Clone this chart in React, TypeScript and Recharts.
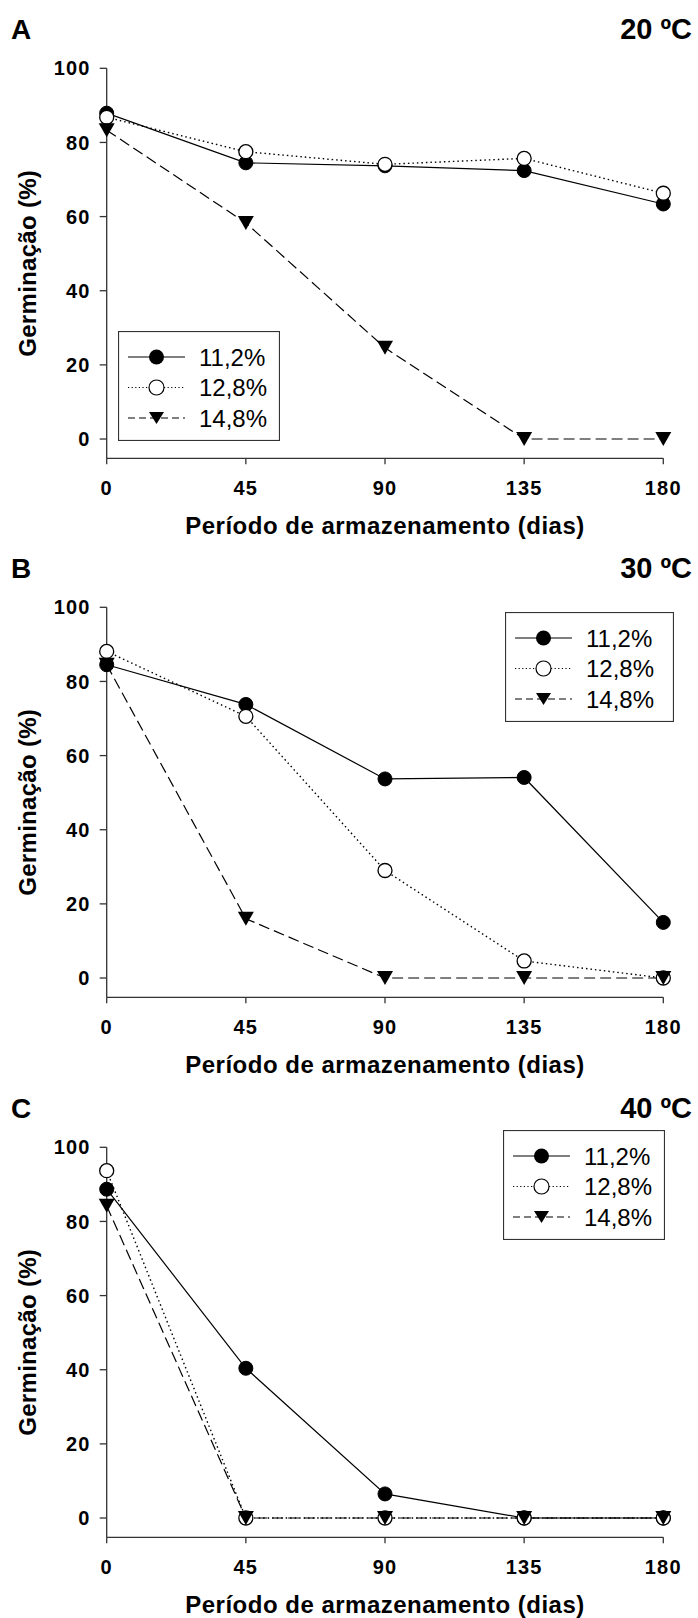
import React from 'react';
import { LineChart, Line, XAxis, YAxis, Legend } from 'recharts';

// dias de armazenamento
const dias = [0, 45, 90, 135, 180];
const umidades = ['11,2%', '12,8%', '14,8%'];
const yTicks = [0, 20, 40, 60, 80, 100];

// 20 ºC
const g20_112 = [87.9, 74.5, 73.7, 72.4, 63.4];
const g20_128 = [86.8, 77.5, 74.1, 75.7, 66.3];
const g20_148 = [83.3, 58.3, 24.6, 0, 0];

// 30 ºC
const g30_112 = [84.5, 73.8, 53.7, 54.1, 15];
const g30_128 = [88.1, 70.6, 29, 4.6, 0];
const g30_148 = [84.5, 16, 0, 0, 0];

// 40 ºC
const g40_112 = [88.7, 40.4, 6.5, 0, 0];
const g40_128 = [93.7, 0, 0, 0, 0];
const g40_148 = [84.2, 0, 0, 0, 0];

const FONT = '"Liberation Sans", Arial, sans-serif';
const AXIS = '#333';

const buildData = (a: number[], b: number[], c: number[]) =>
  dias.map((d, i) => ({ dia: d, s112: a[i], s128: b[i], s148: c[i] }));

const FilledDot = (p: any) => (
  <circle key={`f-${p.index}`} cx={p.cx} cy={p.cy} r={7} fill="#000" stroke="#000" strokeWidth={1} />
);
const OpenDot = (p: any) => (
  <circle key={`o-${p.index}`} cx={p.cx} cy={p.cy} r={7} fill="#fff" stroke="#000" strokeWidth={1.3} />
);
const TriDot = (p: any) => (
  <path
    key={`t-${p.index}`}
    d={`M${p.cx - 8},${p.cy - 7} L${p.cx + 8},${p.cy - 7} L${p.cx},${p.cy + 7} Z`}
    fill="#000"
  />
);

const lineStyles = [
  { dash: undefined, legendDash: undefined, width: 1.2 },
  { dash: '1.5 3', legendDash: '1.2 2.4', width: 1.4 },
  { dash: '11 5', legendDash: '7 4', width: 1.2 },
];

const XTick = (p: any) => (
  <text
    x={p.x}
    y={p.y + 14}
    textAnchor="middle"
    fontSize={20}
    fontWeight="bold"
    fontFamily={FONT}
    letterSpacing={1.2}
    fill="#000"
  >
    {p.payload.value}
  </text>
);

const YTick = (p: any) => (
  <text
    x={p.x}
    y={p.y + 7.1}
    textAnchor="end"
    fontSize={20}
    fontWeight="bold"
    fontFamily={FONT}
    letterSpacing={1.2}
    fill="#000"
  >
    {p.payload.value}
  </text>
);

const LegendBox = ({ width }: { width: number }) => {
  const rows = [26, 56.5, 87];
  return (
    <svg width={width} height={110} style={{ display: 'block' }}>
      <rect x={0.5} y={0.5} width={width - 1} height={109} fill="#fff" stroke={AXIS} strokeWidth={1.2} />
      {umidades.map((u, i) => {
        const y = rows[i];
        const st = lineStyles[i];
        return (
          <g key={u}>
            <line x1={10} x2={67} y1={y} y2={y} stroke="#000" strokeWidth={1.1} strokeDasharray={st.legendDash} />
            {i === 0 && <circle cx={38.5} cy={y} r={7.5} fill="#000" />}
            {i === 1 && <circle cx={38.5} cy={y} r={7.5} fill="#fff" stroke="#000" strokeWidth={1.2} />}
            {i === 2 && <path d={`M${31},${y - 6} L${46},${y - 6} L${38.5},${y + 6} Z`} fill="#000" />}
            <text x={81} y={y + 8.6} fontSize={24} fontFamily={FONT} fill="#000">
              {u}
            </text>
          </g>
        );
      })}
    </svg>
  );
};

interface PanelProps {
  letra: string;
  temp: string;
  top: number;
  s112: number[];
  s128: number[];
  s148: number[];
  legendLeft: number;
  legendTop: number;
  legendWidth: number;
}

const Panel = ({ letra, temp, top, s112, s128, s148, legendLeft, legendTop, legendWidth }: PanelProps) => {
  const data = buildData(s112, s128, s148);
  return (
    <div style={{ position: 'absolute', left: 0, top, width: 698, height: 539 }}>
      <LineChart width={698} height={539} data={data} margin={{ top: 68.3, right: 34.7, bottom: 0, left: 0 }}>
        <XAxis
          dataKey="dia"
          type="number"
          domain={[0, 180]}
          ticks={dias}
          height={80.7}
          stroke={AXIS}
          strokeWidth={1.3}
          tickSize={6}
          tickMargin={17}
          tick={XTick}
          tickLine={{ stroke: AXIS, strokeWidth: 1.3 }}
          label={(props: any) => {
            const vb = props.viewBox;
            return (
              <text
                x={vb.x + vb.width / 2}
                y={vb.y + 76}
                textAnchor="middle"
                fontSize={24}
                fontWeight="bold"
                fontFamily={FONT}
                letterSpacing={0.5}
                fill="#000"
              >
                Período de armazenamento (dias)
              </text>
            );
          }}
        />
        <YAxis
          type="number"
          domain={[-5.2, 100]}
          ticks={yTicks}
          width={106.7}
          stroke={AXIS}
          strokeWidth={1.3}
          tickSize={7}
          tickMargin={9}
          tick={YTick}
          tickLine={{ stroke: AXIS, strokeWidth: 1.3 }}
          label={(props: any) => {
            const vb = props.viewBox;
            const cx = vb.x + 36;
            const cy = vb.y + vb.height / 2;
            return (
              <text
                x={cx}
                y={cy}
                transform={`rotate(-90 ${cx} ${cy})`}
                textAnchor="middle"
                fontSize={24}
                fontWeight="bold"
                fontFamily={FONT}
                letterSpacing={0.3}
                fill="#000"
              >
                Germinação (%)
              </text>
            );
          }}
        />
        <Legend
          layout="vertical"
          align="center"
          verticalAlign="middle"
          wrapperStyle={{ left: legendLeft, top: legendTop, width: legendWidth, height: 110 }}
          content={() => <LegendBox width={legendWidth} />}
        />
        <Line
          type="linear"
          dataKey="s112"
          name={umidades[0]}
          stroke="#000"
          strokeWidth={lineStyles[0].width}
          dot={FilledDot}
          activeDot={false}
          isAnimationActive={false}
        />
        <Line
          type="linear"
          dataKey="s128"
          name={umidades[1]}
          stroke="#000"
          strokeWidth={lineStyles[1].width}
          strokeDasharray={lineStyles[1].dash}
          dot={OpenDot}
          activeDot={false}
          isAnimationActive={false}
        />
        <Line
          type="linear"
          dataKey="s148"
          name={umidades[2]}
          stroke="#000"
          strokeWidth={lineStyles[2].width}
          strokeDasharray={lineStyles[2].dash}
          dot={TriDot}
          activeDot={false}
          isAnimationActive={false}
        />
      </LineChart>
      <svg width={698} height={60} style={{ position: 'absolute', left: 0, top: 0, pointerEvents: 'none' }}>
        <text x={11} y={38.5} fontSize={28} fontWeight="bold" fontFamily={FONT} fill="#000">
          {letra}
        </text>
        <text x={692} y={39} textAnchor="end" fontSize={29} fontWeight="bold" fontFamily={FONT} fill="#000">
          {temp}
        </text>
      </svg>
    </div>
  );
};

export default function App() {
  return (
    <div style={{ position: 'absolute', left: 0, top: 0, width: 698, height: 1618, background: '#fff' }}>
      <Panel letra="A" temp="20 ºC" top={0} s112={g20_112} s128={g20_128} s148={g20_148}
        legendLeft={118.3} legendTop={331} legendWidth={162} />
      <Panel letra="B" temp="30 ºC" top={538.5} s112={g30_112} s128={g30_128} s148={g30_148}
        legendLeft={505} legendTop={73.9} legendWidth={169} />
      <Panel letra="C" temp="40 ºC" top={1078.5} s112={g40_112} s128={g40_128} s148={g40_148}
        legendLeft={503.3} legendTop={51.6} legendWidth={162} />
    </div>
  );
}
